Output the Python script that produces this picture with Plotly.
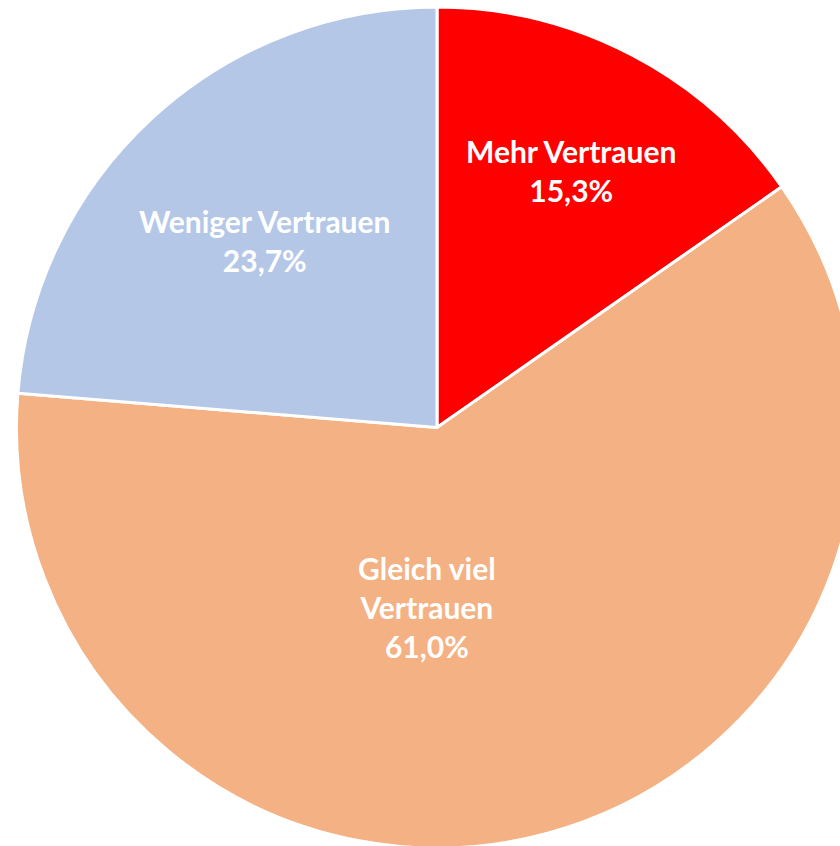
import plotly.graph_objects as go

labels = ["Mehr Vertrauen", "Gleich viel<br>Vertrauen", "Weniger Vertrauen"]
values = [15.3, 61.0, 23.7]
colors = ["#FF0000", "#F4B183", "#B4C7E7"]

# label centre positions (paper coordinates)
label_pos = [(0.6533, 0.806), (0.4886, 0.2866), (0.3021, 0.7229)]

fig = go.Figure(go.Pie(
    labels=labels,
    values=values,
    sort=False,
    direction="clockwise",
    rotation=0,
    marker=dict(colors=colors, line=dict(color="white", width=3)),
    textinfo="none",
    hoverinfo="label+percent",
    showlegend=False,
))

total = sum(values)
for lab, val, (px, py) in zip(labels, values, label_pos):
    pct = f"{val / total * 100:.1f}".replace(".", ",") + "%"
    fig.add_annotation(
        x=px, y=py, xref="paper", yref="paper",
        xanchor="center", yanchor="middle",
        text=f"{lab}<br>{pct}",
        showarrow=False,
        font=dict(family="Lato", size=30, color="white", weight="bold"),
        align="center",
    )

fig.update_layout(
    width=874, height=848,
    margin=dict(l=0, r=0, t=7, b=0),
    paper_bgcolor="white",
    separators=", ",
)

fig.write_html(
    "out.html",
    config={"displayModeBar": False},
    post_script="document.body.style.margin='0';document.body.style.overflow='hidden';document.documentElement.style.overflow='hidden';",
)
